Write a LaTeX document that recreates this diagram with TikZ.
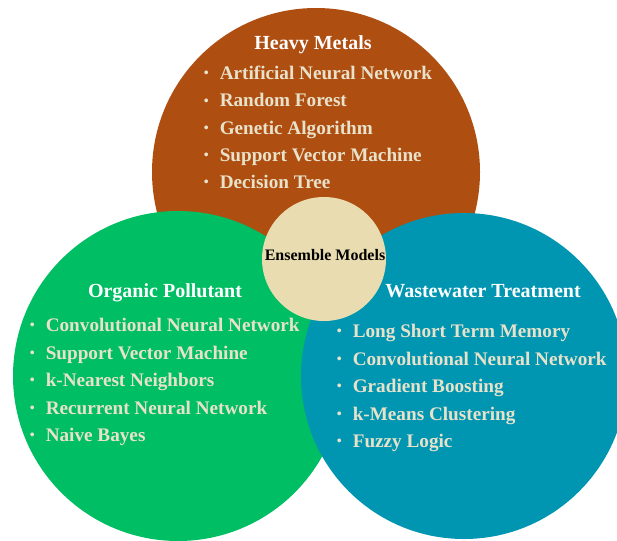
\documentclass[tikz,border=0pt]{standalone}
\usepackage{fontspec}
\setmainfont{Liberation Serif}

\definecolor{metalbrown}{HTML}{AF4E11}
\definecolor{organicgreen}{HTML}{00BE63}
\definecolor{waterblue}{HTML}{0096B2}
\definecolor{ensemblebeige}{HTML}{E9DCB0}
\definecolor{cream}{HTML}{E8E2CA}

% bullet of fixed width in front of every list entry
\newcommand{\bul}{\makebox[12pt][l]{\fontsize{10.5}{10.5}\selectfont\raisebox{1.3pt}{\textbullet}}}

\begin{document}
\begin{tikzpicture}[
    x=0.75pt, y=-0.75pt,
    every node/.style={font=\bfseries},
    field/.style={circle, inner sep=0pt, outer sep=0pt},
    title/.style={anchor=base, inner sep=0pt, text=white, font=\fontsize{15}{18}\selectfont\bfseries},
    item/.style={anchor=base west, inner sep=0pt, text=cream, font=\fontsize{14.4}{17}\selectfont\bfseries},
]
\useasboundingbox (0,0) rectangle (617,540);

% Circles (back to front)
\node[field, fill=metalbrown,    minimum size=246pt]   (metals)   at (316,172) {};
\node[field, fill=organicgreen,  minimum size=247.5pt] (organic)  at (178,376) {};
\node[field, fill=waterblue,     minimum size=244.5pt] (water)    at (464,376) {};
\node[field, fill=ensemblebeige, minimum size=93pt]    (ensemble) at (324,259) {};

% Centre label
\node[anchor=base, inner sep=0pt, font=\fontsize{12}{14}\selectfont\bfseries] (ensemblelabel) at (325,260) {Ensemble Models};

% Heavy Metals
\node[title] (metalstitle) at (313,49) {Heavy Metals};
\node[item] (hm1) at (203.5,79.5)  {\bul Artificial Neural Network};
\node[item] (hm2) at (203.5,106.8) {\bul Random Forest};
\node[item] (hm3) at (203.5,134.1) {\bul Genetic Algorithm};
\node[item] (hm4) at (203.5,161.4) {\bul Support Vector Machine};
\node[item] (hm5) at (203.5,188.7) {\bul Decision Tree};

% Organic Pollutant
\node[title] (organictitle) at (165,297) {Organic Pollutant};
\node[item] (op1) at (29.5,331.5) {\bul Convolutional Neural Network};
\node[item] (op2) at (29.5,359)   {\bul Support Vector Machine};
\node[item] (op3) at (29.5,386.5) {\bul k-Nearest Neighbors};
\node[item] (op4) at (29.5,414)   {\bul Recurrent Neural Network};
\node[item] (op5) at (29.5,441.5) {\bul Naive Bayes};

% Wastewater Treatment
\node[title] (watertitle) at (483,297) {Wastewater Treatment};
\node[item] (wt1) at (336.5,337.5) {\bul Long Short Term Memory};
\node[item] (wt2) at (336.5,365)   {\bul Convolutional Neural Network};
\node[item] (wt3) at (336.5,392.5) {\bul Gradient Boosting};
\node[item] (wt4) at (336.5,420)   {\bul k-Means Clustering};
\node[item] (wt5) at (336.5,447.5) {\bul Fuzzy Logic};

\end{tikzpicture}
\end{document}
